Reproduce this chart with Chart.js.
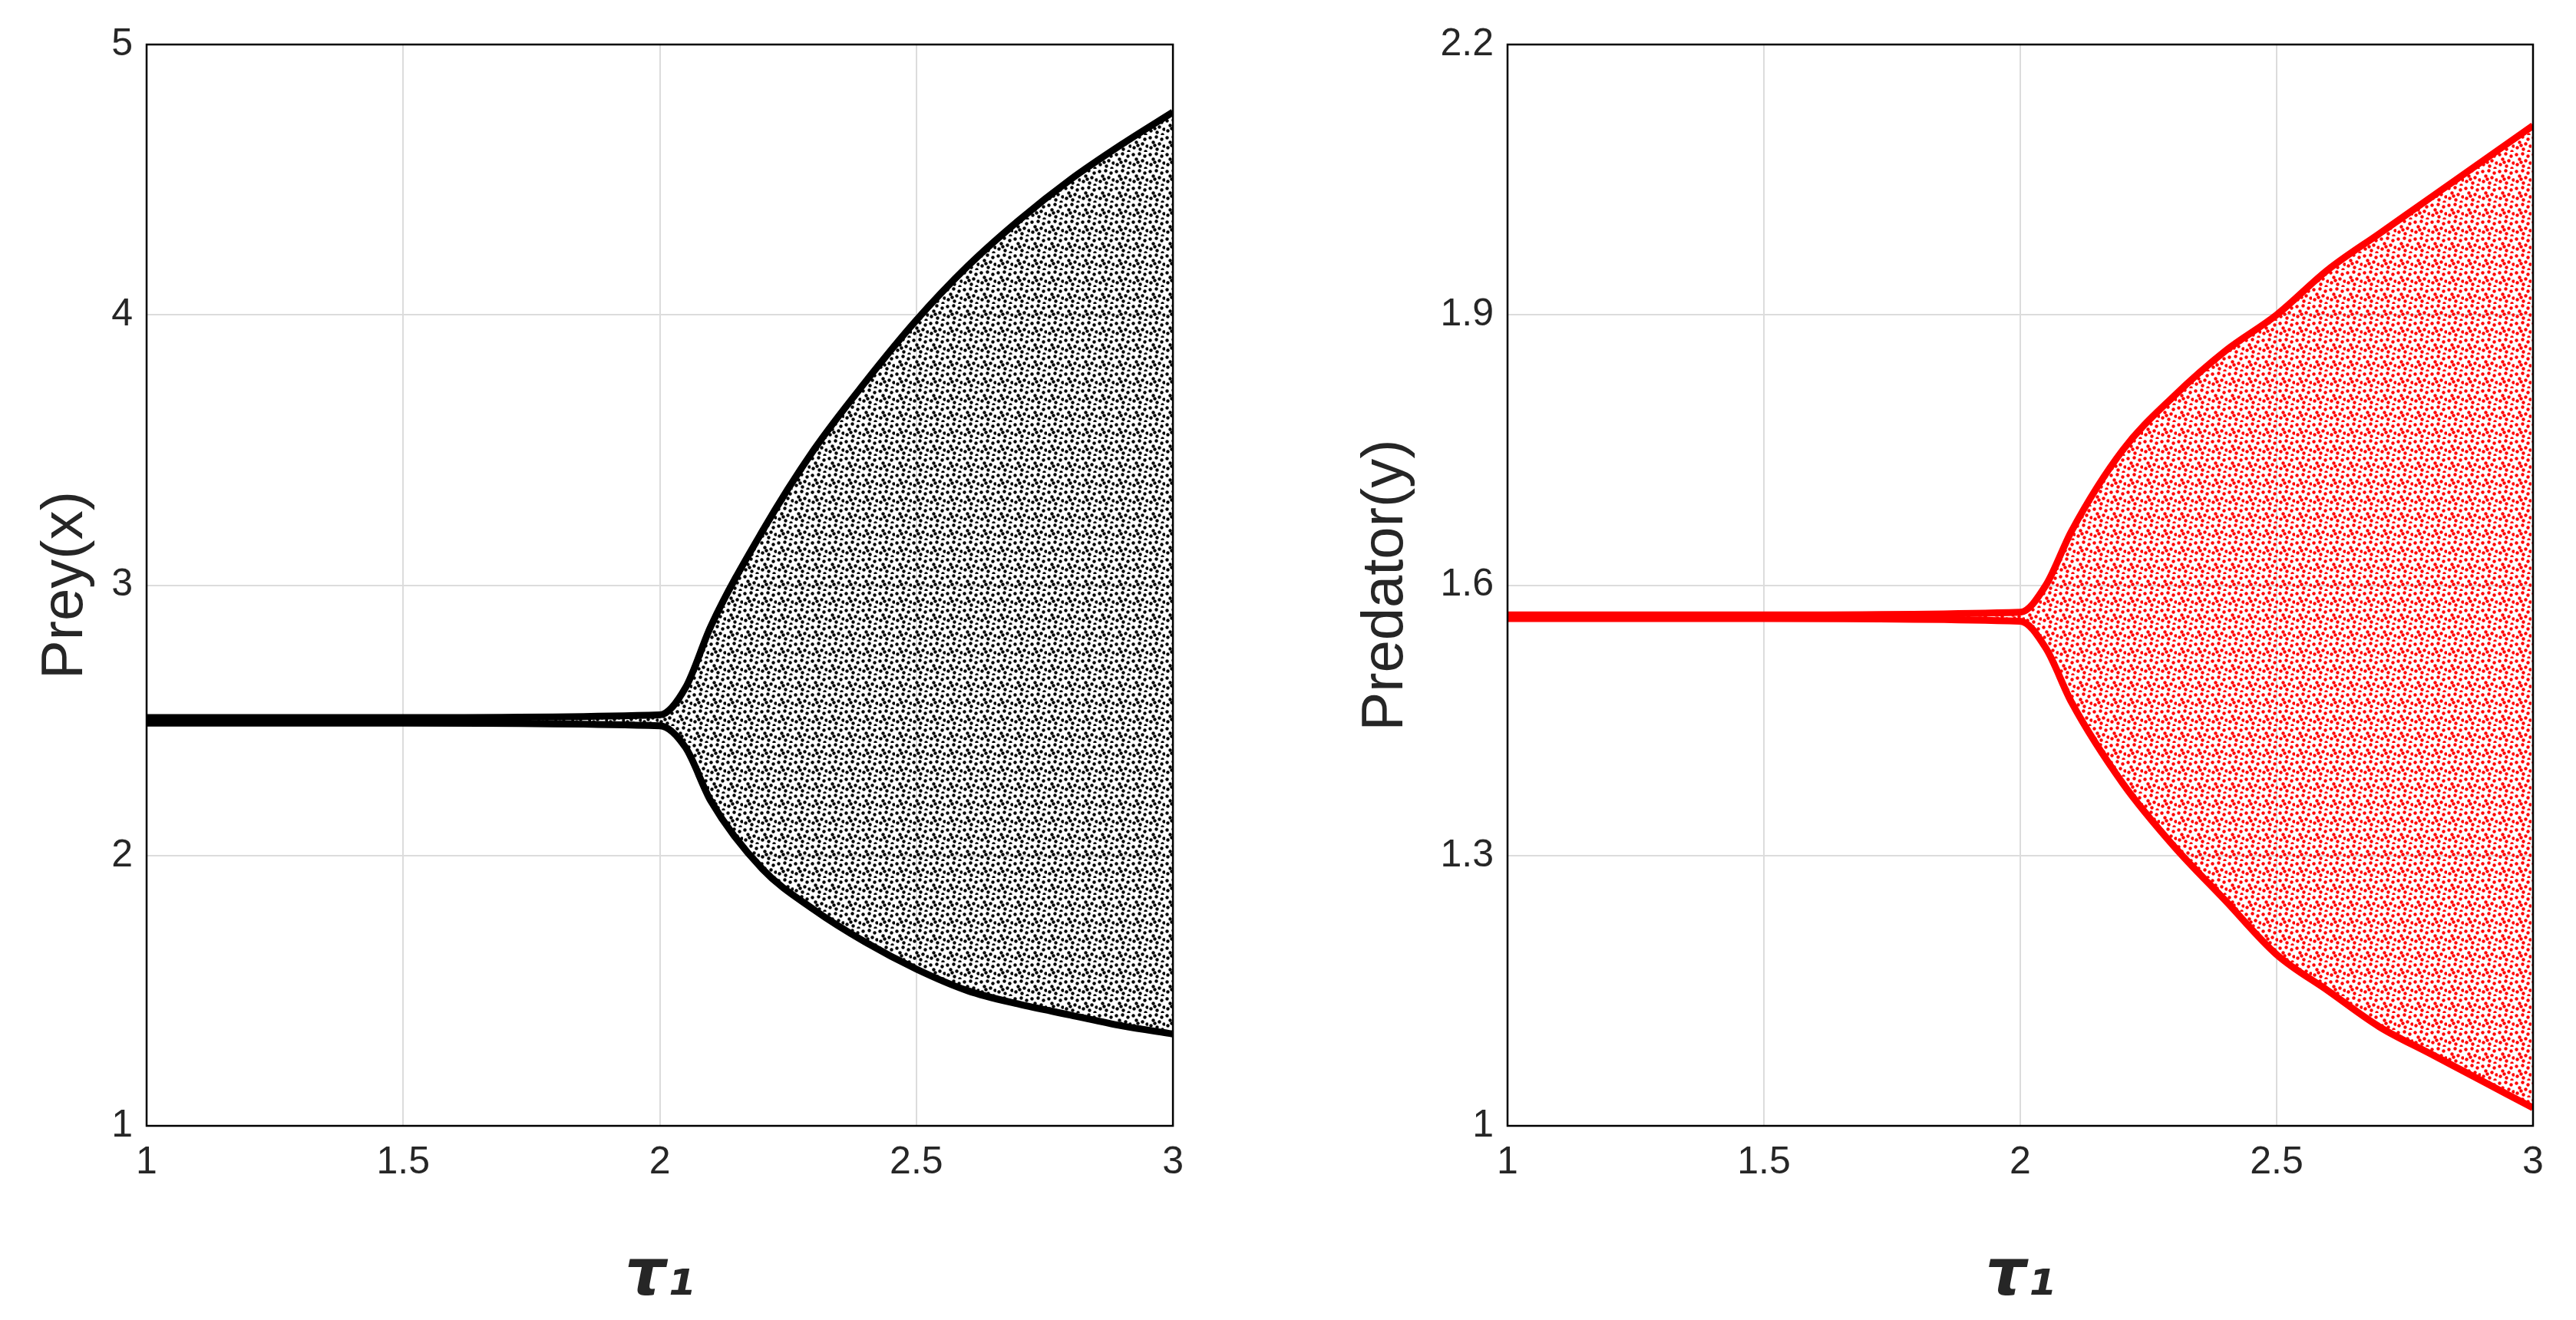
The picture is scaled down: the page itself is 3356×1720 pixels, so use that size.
<!DOCTYPE html>
<html><head><meta charset="utf-8">
<script src="https://cdn.jsdelivr.net/npm/chart.js@4"></script>
<style>body{margin:0;background:#fff;width:3356px;height:1720px;overflow:hidden}
.c{position:absolute;top:0;height:1720px}</style></head><body>
<div class="c" style="left:0;width:1560px"><canvas id="a"></canvas></div>
<div class="c" style="left:1560px;width:1796px"><canvas id="b"></canvas></div>
<script>
const tau = [1, 1.5, 2, 2.05, 2.1, 2.2, 2.3, 2.4, 2.5, 2.6, 2.7, 2.8, 2.9, 3.0];
const preyUpper = [2.51, 2.51, 2.52, 2.62, 2.85, 3.2, 3.5, 3.75, 3.98, 4.18, 4.35, 4.5, 4.63, 4.75];
const preyLower = [2.49, 2.49, 2.48, 2.4, 2.2, 1.95, 1.8, 1.68, 1.58, 1.5, 1.45, 1.41, 1.37, 1.34];
const predUpper = [1.567, 1.567, 1.57, 1.6, 1.66, 1.75, 1.81, 1.86, 1.90, 1.95, 1.99, 2.03, 2.07, 2.11];
const predLower = [1.563, 1.563, 1.56, 1.53, 1.47, 1.38, 1.31, 1.25, 1.19, 1.15, 1.11, 1.08, 1.05, 1.02];
const xTicks = [1, 1.5, 2, 2.5, 3];
const preyTicks = [1, 2, 3, 4, 5];
const predTicks = [1, 1.3, 1.6, 1.9, 2.2];

function pattern(color){
  const c=document.createElement('canvas');c.width=c.height=22;const g=c.getContext('2d');
  g.fillStyle=color;
  const d=[[1,2],[9,1],[16,4],[5,8],[13,10],[19,13],[2,15],[10,17],[17,20],[7,12]];
  d.forEach(p=>{g.beginPath();g.arc(p[0]+1.5,p[1]+1.5,2.2,0,7);g.fill();});
  return g.createPattern(c,'repeat');
}
const frame={id:'frame',afterDraw(ch){const a=ch.chartArea,g=ch.ctx;g.save();g.strokeStyle='#000';g.lineWidth=2.5;g.strokeRect(a.left,a.top,a.right-a.left,a.bottom-a.top);g.restore();}};
function mk(id,up,lo,color,ymax,ticks,title,yw,pr,tp){
  const pts=(arr)=>tau.map((t,i)=>({x:t,y:arr[i]}));
  new Chart(document.getElementById(id),{type:'line',
    data:{datasets:[
      {data:pts(up),borderColor:color,borderWidth:9,pointRadius:0,cubicInterpolationMode:'monotone',fill:'+1',backgroundColor:pattern(color)},
      {data:pts(lo),borderColor:color,borderWidth:9,pointRadius:0,cubicInterpolationMode:'monotone',fill:false}]},
    options:{responsive:true,maintainAspectRatio:false,animation:false,
      layout:{padding:{top:58,right:pr,bottom:0,left:0}},
      plugins:{legend:{display:false},tooltip:{enabled:false}},
      scales:{
        x:{type:'linear',min:1,max:3,afterBuildTicks:s=>{s.ticks=xTicks.map(v=>({value:v}))},
          afterFit:s=>{s.height=253},
          grid:{color:'#dcdcdc',lineWidth:2,tickLength:0},border:{display:false},
          ticks:{font:{size:50,family:'Liberation Sans'},color:'#262626',padding:18,callback:v=>String(v)},
          title:{display:true,text:'τ₁',font:{size:84,weight:'bold',style:'italic',family:'DejaVu Sans'},color:'#262626',padding:{top:10}}},
        y:{min:1,max:ymax,afterBuildTicks:s=>{s.ticks=ticks.map(v=>({value:v}))},
          afterFit:s=>{s.width=yw},
          grid:{color:'#dcdcdc',lineWidth:2,tickLength:0},border:{display:false},
          ticks:{font:{size:50,family:'Liberation Sans'},color:'#262626',padding:18,callback:v=>String(v)},
          title:{display:true,text:title,font:{size:76,family:'Liberation Sans'},color:'#262626',padding:{top:tp,bottom:0}}}}},
    plugins:[frame]});
}
mk('a',preyUpper,preyLower,'#000',5,preyTicks,'Prey(x)',191,14,40);
mk('b',predUpper,predLower,'#ff0000',2.2,predTicks,'Predator(y)',404,56,200);
</script></body></html>
